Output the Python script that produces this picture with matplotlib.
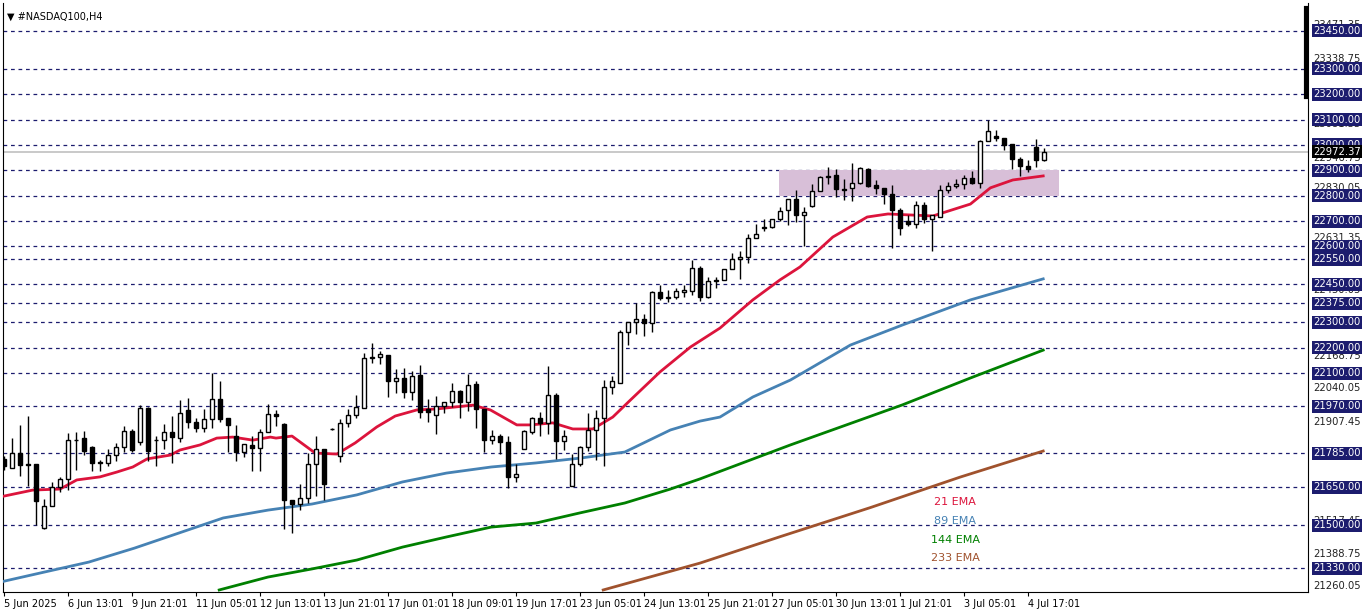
import numpy as np
import matplotlib
matplotlib.use("Agg")
import matplotlib.pyplot as plt
from matplotlib.transforms import blended_transform_factory

# ---- OHLC (H4 bars) --------------------------------------------------------
opens = [21762, 21728, 21786, 21740, 21742, 21488, 21578, 21650, 21683, 21837,
         21843, 21808, 21747, 21745, 21779, 21808, 21871, 21828, 21962, 21835,
         21836, 21867, 21846, 21955, 21907, 21883, 21918, 21999, 21925, 21854,
         21791, 21817, 21804, 21867, 21940, 21900, 21600, 21583, 21608, 21740,
         21802, 21880, 21773, 21904, 21936, 21963, 22161, 22165, 22170, 22068,
         22082, 22026, 22091, 21959, 21937, 21970, 21986, 22030, 21986, 22059,
         21957, 21837, 21853, 21829, 21690, 21801, 21870, 21922, 21904, 22012,
         21833, 21656, 21740, 21807, 21876, 21925, 22046, 22062, 22261, 22300,
         22312, 22296, 22419, 22398, 22400, 22422, 22423, 22513, 22401, 22462,
         22467, 22509, 22549, 22557, 22632, 22673, 22676, 22707, 22742, 22787,
         22723, 22761, 22820, 22874, 22883, 22826, 22830, 22850, 22905, 22842,
         22830, 22807, 22745, 22699, 22688, 22763, 22708, 22716, 22824, 22840,
         22846, 22870, 22850, 23017, 23037, 23028, 23005, 22945, 22918, 22993,
         22940]
highs = [21775, 21845, 21896, 21932, 21742, 21604, 21670, 21690, 21865, 21870,
         21872, 21812, 21758, 21801, 21825, 21893, 21880, 21975, 21966, 21851,
         21900, 21930, 21995, 22003, 21922, 21959, 22099, 22070, 21925, 21896,
         21820, 21851, 21880, 21979, 21954, 21904, 21600, 21661, 21786, 21854,
         21802, 21882, 21921, 21957, 22012, 22178, 22220, 22186, 22170, 22115,
         22121, 22109, 22134, 21999, 22009, 21986, 22062, 22034, 22097, 22068,
         21960, 21874, 21860, 21852, 21741, 21876, 21928, 21946, 22128, 22023,
         21876, 21781, 21812, 21941, 21954, 22075, 22088, 22270, 22303, 22375,
         22332, 22425, 22446, 22430, 22434, 22449, 22546, 22522, 22478, 22478,
         22509, 22575, 22583, 22649, 22688, 22708, 22707, 22757, 22787, 22821,
         22756, 22848, 22879, 22913, 22905, 22867, 22929, 22913, 22909, 22863,
         22830, 22844, 22752, 22725, 22780, 22774, 22725, 22844, 22853, 22866,
         22880, 22896, 23021, 23100, 23061, 23028, 23005, 22951, 22942, 23025,
         22988]
lows = [21720, 21725, 21694, 21657, 21502, 21486, 21575, 21630, 21641, 21720,
        21778, 21715, 21715, 21733, 21755, 21788, 21791, 21815, 21755, 21733,
        21801, 21746, 21828, 21883, 21867, 21867, 21883, 21907, 21788, 21755,
        21771, 21716, 21716, 21867, 21891, 21486, 21470, 21562, 21589, 21615,
        21599, 21876, 21749, 21887, 21924, 21963, 22141, 22137, 22005, 22022,
        22001, 21994, 21924, 21907, 21861, 21944, 21967, 21924, 21949, 21883,
        21790, 21819, 21782, 21648, 21670, 21801, 21862, 21854, 21862, 21760,
        21797, 21656, 21733, 21794, 21757, 21735, 22016, 22062, 22211, 22254,
        22246, 22263, 22388, 22382, 22391, 22401, 22408, 22386, 22395, 22434,
        22467, 22509, 22473, 22533, 22632, 22662, 22672, 22701, 22684, 22695,
        22600, 22756, 22817, 22846, 22794, 22784, 22778, 22846, 22834, 22808,
        22769, 22594, 22644, 22682, 22671, 22692, 22580, 22716, 22811, 22830,
        22826, 22845, 22829, 23017, 23015, 22982, 22907, 22879, 22892, 22912,
        22936]
closes = [21733, 21784, 21738, 21738, 21594, 21578, 21650, 21683, 21837, 21835,
          21795, 21745, 21745, 21779, 21808, 21871, 21799, 21962, 21794, 21837,
          21867, 21850, 21944, 21907, 21883, 21920, 21997, 21920, 21894, 21791,
          21820, 21804, 21867, 21940, 21933, 21599, 21583, 21608, 21742, 21802,
          21662, 21878, 21904, 21936, 21967, 22161, 22165, 22175, 22068, 22082,
          22025, 22088, 21948, 21948, 21970, 21986, 22030, 21986, 22054, 21959,
          21836, 21853, 21829, 21690, 21703, 21873, 21922, 21904, 22012, 21833,
          21854, 21740, 21807, 21876, 21925, 22046, 22070, 22261, 22300, 22312,
          22296, 22419, 22398, 22400, 22424, 22427, 22513, 22401, 22462, 22467,
          22509, 22549, 22557, 22632, 22649, 22676, 22707, 22738, 22787, 22723,
          22736, 22820, 22874, 22877, 22826, 22821, 22850, 22909, 22840, 22829,
          22807, 22742, 22673, 22688, 22763, 22708, 22725, 22824, 22840, 22848,
          22870, 22850, 23017, 23055, 23026, 23001, 22944, 22917, 22905, 22940,
          22972.37]

# ---- moving averages, sampled (bar position, price) ----------------------
ema21_x = [-0.5, 3.6, 7, 9.1, 12, 14.1, 16.1, 17.9, 20.8, 22, 24.5, 26.6, 28.6,
           31.1, 33.3, 34, 36, 38.9, 41.6, 43.9, 46.6, 48.9, 51.6, 54.1, 58.6,
           60.8, 64.1, 65.8, 68.6, 71.1, 73.6, 76.1, 78.3, 82.0, 85.8, 89.5,
           93.6, 97, 99.5, 103.6, 107.9, 110.5, 116.1, 120.8, 123.3,
           126.1, 129.9]
ema21_y = [21612, 21639, 21643, 21679, 21691, 21710, 21730, 21762, 21777, 21797,
           21817, 21844, 21848, 21836, 21848, 21844, 21852, 21785, 21781, 21825,
           21888, 21931, 21955, 21959, 21974, 21955, 21896, 21896, 21904, 21880,
           21880, 21927, 21994, 22105, 22203, 22278, 22389, 22468, 22519,
           22637, 22716, 22728, 22720, 22767, 22831, 22862, 22878]
ema89_x = [-0.5, 5.1, 10.6, 16.3, 21.9, 27.4, 33, 38.5, 44.1, 49.8, 55.3, 60.9,
           66.5, 72, 77.6, 83.3, 87, 89.5, 93.6, 98.3, 105.8, 112.3, 120.8, 129.9]
ema89_y = [21276, 21316, 21355, 21410, 21470, 21529, 21560, 21584, 21620, 21671,
           21706, 21730, 21746, 21765, 21789, 21876, 21911, 21927, 22006, 22073,
           22211, 22290, 22389, 22472]
ema144_x = [26.9, 33, 38.5, 44.1, 49.8, 55.3, 60.9, 66.5, 72, 77.6, 83.3, 87,
            98.3, 112.3, 120.8, 129.9]
ema144_y = [21245, 21296, 21328, 21363, 21414, 21454, 21493, 21509, 21549, 21588,
            21643, 21683, 21817, 21975, 22081, 22191]
ema233_x = [74.9, 87, 97, 108.3, 119.5, 129.9]
ema233_y = [21245, 21351, 21455, 21570, 21690, 21793]

date_labels = ["5 Jun 2025", "6 Jun 13:01", "9 Jun 21:01", "11 Jun 05:01",
               "12 Jun 13:01", "13 Jun 21:01", "17 Jun 01:01", "18 Jun 09:01",
               "19 Jun 17:01", "23 Jun 05:01", "24 Jun 13:01", "25 Jun 21:01",
               "27 Jun 05:01", "30 Jun 13:01", "1 Jul 21:01", "3 Jul 05:01",
               "4 Jul 17:01"]
level_lines = [23450, 23300, 23200, 23100, 23000, 22900, 22800, 22700, 22600,
               22550, 22450, 22375, 22300, 22200, 22100, 21970, 21785, 21650,
               21500, 21330]
scale_ticks = [23471.35, 23338.75, 23081.35, 22946.75, 22830.05, 22631.35,
               22430.05, 22168.75, 22040.05, 21907.45, 21774.85, 21517.45,
               21388.75, 21260.05]
zone_low, zone_high = 22800, 22900
last_price = 22972.37

NAVY = "#1c1c6e"
fig = plt.figure(figsize=(13.62, 6.11), dpi=100)
ax = fig.add_axes([3 / 1362, 19 / 611, 1305 / 1362, 589 / 611])
ax.set_xlim(-0.125, 163.0)
ax.set_ylim(21237, 23560)

for lv in level_lines:
    ax.axhline(lv, color=NAVY, lw=0.9, ls=(0, (3, 3)), zorder=1)
ax.axhline(last_price, color="#c0c0c0", lw=1.2, zorder=1)

ax.fill_between([96.9, 131.9], zone_low, zone_high, color="#d8bfd8", zorder=2, lw=0)

ax.plot(ema233_x, ema233_y, color="#a0522d", lw=2, zorder=3)
ax.plot(ema144_x, ema144_y, color="#008000", lw=2, zorder=3)
ax.plot(ema89_x, ema89_y, color="#4682b4", lw=2, zorder=3)
ax.plot(ema21_x, ema21_y, color="#dc143c", lw=2, zorder=3)

idx = np.arange(len(closes))
o = np.array(opens, float)
c = np.array(closes, float)
ax.vlines(idx, lows, highs, color="black", lw=1, zorder=4)
up = c >= o
body = np.maximum(np.abs(c - o), 3)
ax.bar(idx[up], body[up], bottom=o[up], width=0.6, color="white",
       edgecolor="black", lw=1, zorder=5)
ax.bar(idx[~up], body[~up], bottom=c[~up], width=0.6, color="black",
       edgecolor="black", lw=1, zorder=5)

for txt, col, y in [("21 EMA", "#dc143c", 21592), ("89 EMA", "#4682b4", 21517),
                    ("144 EMA", "#008000", 21442), ("233 EMA", "#a0522d", 21371)]:
    ax.text(118.9, y, txt, color=col, fontsize=8, ha="center", va="center", zorder=6)

ax.text(0.003, 0.985, "\u25bc #NASDAQ100,H4", transform=ax.transAxes,
        fontsize=7, va="top", ha="left")

# x axis
ax.set_xticks(np.arange(len(date_labels)) * 8)
ax.set_xticklabels(date_labels, fontsize=7, ha="left")
ax.tick_params(axis="x", length=3, pad=2)
ax.set_yticks([])
ax.spines["top"].set_visible(False)

# price scale on the right
tr = blended_transform_factory(ax.transAxes, ax.transData)
for t in scale_ticks:
    ax.text(1.004, t, f"{t:.2f}", transform=tr, fontsize=7.2, color="#222222",
            va="center", ha="left", clip_on=False, zorder=1)
for lv in level_lines:
    ax.text(1.004, lv, f"{lv:.2f}", transform=tr, fontsize=7.2, color="white",
            va="center", ha="left", clip_on=False, zorder=7,
            bbox=dict(boxstyle="square,pad=0.15", fc=NAVY, ec="none"))
ax.text(1.004, last_price, f"{last_price:.2f}", transform=tr, fontsize=7.2,
        color="white", va="center", ha="left", clip_on=False, zorder=8,
        bbox=dict(boxstyle="square,pad=0.15", fc="black", ec="none"))
ax.plot([0.9985, 0.9985], [23190, 23540], transform=tr, color="black", lw=3,
        clip_on=False, zorder=6)

fig.savefig("out.png", dpi=100)
